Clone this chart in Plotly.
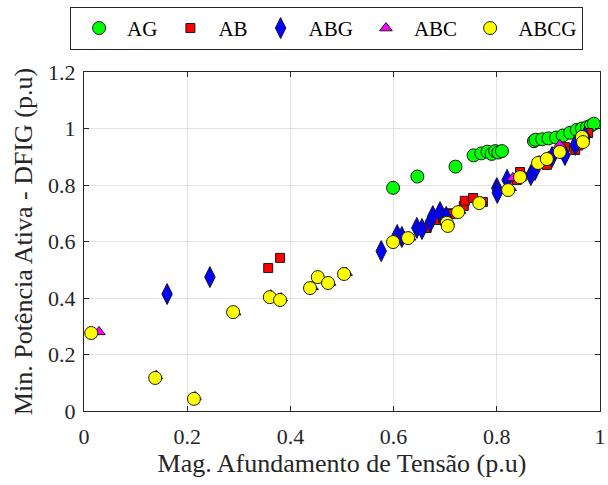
import plotly.graph_objects as go

# ---- data ----
ag_x = [0.599, 0.646, 0.720, 0.755, 0.770, 0.782, 0.790, 0.797, 0.803, 0.810,
        0.872, 0.875, 0.888, 0.900, 0.915, 0.928, 0.942, 0.955, 0.965, 0.975, 0.982, 0.988]
ag_y = [0.790, 0.830, 0.865, 0.905, 0.912, 0.918, 0.910, 0.920, 0.915, 0.920,
        0.955, 0.960, 0.962, 0.965, 0.968, 0.975, 0.985, 0.995, 1.000, 1.005, 1.010, 1.017]

ab_x = [0.357, 0.380, 0.664, 0.686, 0.696, 0.707, 0.713, 0.736, 0.738, 0.754, 0.773,
        0.839, 0.845, 0.848, 0.897, 0.932, 0.952, 0.958, 0.971, 0.977]
ab_y = [0.506, 0.542, 0.648, 0.676, 0.683, 0.700, 0.697, 0.726, 0.744, 0.754, 0.740,
        0.818, 0.846, 0.830, 0.871, 0.934, 0.924, 0.940, 0.966, 0.984]

abg_x = [0.161, 0.244, 0.576, 0.607, 0.616, 0.645, 0.655, 0.671, 0.676, 0.690, 0.702,
         0.800, 0.801, 0.820, 0.866, 0.874, 0.907, 0.932, 0.952, 0.971]
abg_y = [0.414, 0.474, 0.566, 0.623, 0.616, 0.648, 0.644, 0.669, 0.690, 0.704, 0.687,
         0.789, 0.772, 0.818, 0.835, 0.853, 0.899, 0.906, 0.942, 0.970]

abc_x = [0.029, 0.140, 0.215, 0.292, 0.362, 0.382, 0.442, 0.457, 0.476, 0.508, 0.603,
         0.631, 0.706, 0.728, 0.770, 0.826, 0.831, 0.882, 0.900, 0.922, 0.962]
abc_y = [0.280, 0.125, 0.050, 0.350, 0.410, 0.400, 0.440, 0.475, 0.455, 0.490, 0.605,
         0.615, 0.670, 0.710, 0.740, 0.790, 0.825, 0.885, 0.900, 0.942, 0.975]

abcg_x = [0.014, 0.138, 0.213, 0.289, 0.360, 0.380, 0.438, 0.453, 0.473, 0.504, 0.599,
          0.628, 0.703, 0.705, 0.725, 0.766, 0.822, 0.845, 0.880, 0.897, 0.922, 0.965, 0.967]
abcg_y = [0.276, 0.117, 0.043, 0.350, 0.403, 0.393, 0.435, 0.474, 0.453, 0.485, 0.598,
          0.612, 0.666, 0.655, 0.704, 0.736, 0.782, 0.828, 0.878, 0.892, 0.917, 0.970, 0.952]

x_ticks = [0, 0.2, 0.4, 0.6, 0.8, 1]
x_tick_labels = ["0", "0.2", "0.4", "0.6", "0.8", "1"]
y_ticks = [0, 0.2, 0.4, 0.6, 0.8, 1, 1.2]
y_tick_labels = ["0", "0.2", "0.4", "0.6", "0.8", "1", "1.2"]

FONT = "Liberation Serif"
edge = dict(color="#1a1a1a", width=1)

fig = go.Figure()
fig.add_trace(go.Scatter(x=ag_x, y=ag_y, mode="markers", name="AG",
                         marker=dict(symbol="circle", size=13, color="#00ff00", line=edge)))
fig.add_trace(go.Scatter(x=ab_x, y=ab_y, mode="markers", name="AB",
                         marker=dict(symbol="square", size=9, color="#ff0000", line=edge)))
fig.add_trace(go.Scatter(x=abg_x, y=abg_y, mode="markers", name="ABG",
                         marker=dict(symbol="diamond-tall", size=15, color="#0000ff", line=edge)))
fig.add_trace(go.Scatter(x=abc_x, y=abc_y, mode="markers", name="ABC",
                         marker=dict(symbol="triangle-up", size=11, color="#ff00ff", line=edge)))
fig.add_trace(go.Scatter(x=abcg_x, y=abcg_y, mode="markers", name="ABCG",
                         marker=dict(symbol="circle", size=13, color="#ffff00", line=edge)))

axis_common = dict(
    showgrid=True, gridcolor="#e3e3e3", gridwidth=1,
    showline=True, linecolor="#262626", linewidth=1, mirror="ticks",
    ticks="inside", ticklen=5, tickcolor="#262626", automargin=False,
    zeroline=False, tickfont=dict(family=FONT, size=22, color="#262626"),
)

fig.update_xaxes(range=[0, 1], tickvals=x_ticks, ticktext=x_tick_labels,
                 ticklabelstandoff=6,
                 title=dict(text="Mag. Afundamento de Tensão (p.u)",
                            font=dict(family=FONT, size=26, color="#262626"), standoff=3),
                 **axis_common)
fig.update_yaxes(range=[0, 1.2], tickvals=y_ticks, ticktext=y_tick_labels,
                 ticklabelstandoff=3,
                 title=dict(text="Min. Potência Ativa - DFIG (p.u)",
                            font=dict(family=FONT, size=26, color="#262626"), standoff=7),
                 **axis_common)

fig.update_layout(
    width=608, height=485,
    margin=dict(l=84, r=8, t=72, b=74, autoexpand=False),
    paper_bgcolor="white", plot_bgcolor="white",
    font=dict(family=FONT, color="#000000"),
    legend=dict(orientation="h", x=-0.027, y=1.192, xanchor="left", yanchor="top",
                bordercolor="#262626", borderwidth=1, bgcolor="white",
                font=dict(family=FONT, size=21, color="#000000"),
                itemwidth=46, tracegroupgap=0),
    showlegend=True,
)

fig.write_html("out.html", config={"displayModeBar": False},
               post_script="document.body.style.margin='0';")
